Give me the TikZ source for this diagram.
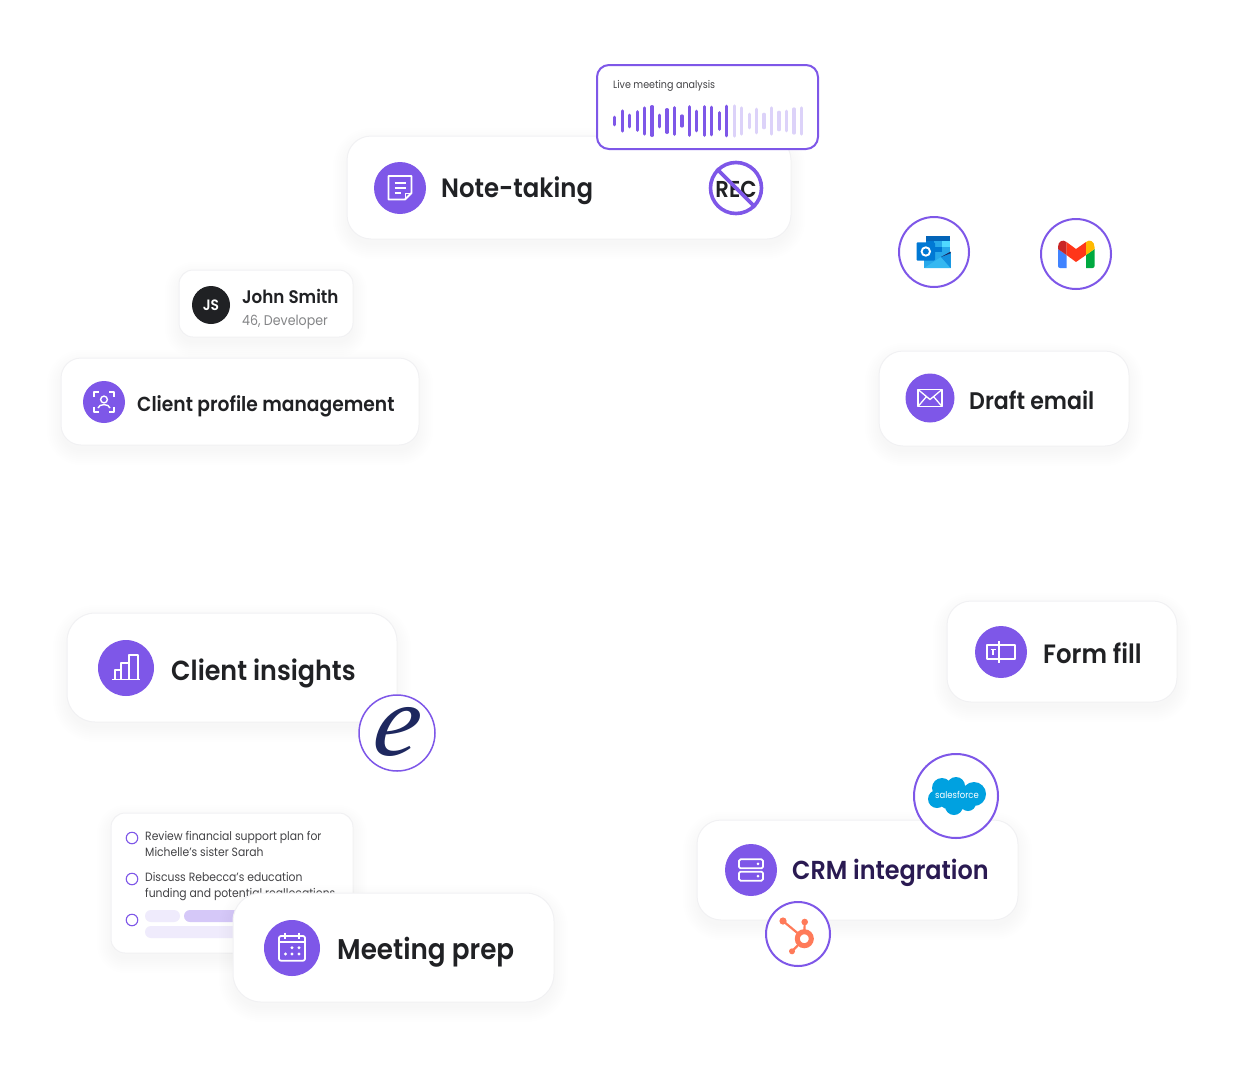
\documentclass[tikz,border=0pt]{standalone}
\usepackage{fontspec}
\setmainfont{Poppins}
\newfontfamily\medfont{Poppins}[UprightFont=* SemiBold, FakeStretch=.92]
\newfontfamily\regfont{Poppins}[FakeStretch=.9]
\newfontfamily\efont{Liberation Serif}
\definecolor{violet}{HTML}{7E57E8}
\definecolor{ink}{HTML}{202124}
\definecolor{edge}{HTML}{F1F1F3}
\definecolor{palebar}{HTML}{DCD2F9}
\definecolor{palepill}{HTML}{EFEBFC}
\definecolor{midpill}{HTML}{D5C8F8}
\definecolor{navy}{HTML}{1E285F}
\definecolor{crmink}{HTML}{2A1A52}
\definecolor{hubspot}{HTML}{FF7A59}
\definecolor{cloud}{HTML}{00A1E0}
\definecolor{ol1}{HTML}{0364B8}
\definecolor{ol2}{HTML}{0078D4}
\definecolor{ol3}{HTML}{28A8EA}
\definecolor{ol4}{HTML}{50D9FF}
\definecolor{ol5}{HTML}{1490DF}
\definecolor{ol6}{HTML}{35B8F1}
\tikzset{
  card/.style={draw=edge, line width=1pt, fill=white, anchor=north west, inner sep=0pt, outer sep=0pt},
  badge/.style={shape=circle, fill=violet, inner sep=0pt},
  logo/.style={shape=circle, draw=violet, fill=white, line width=2pt, inner sep=0pt},
  title/.style={anchor=base west, text=ink, inner sep=0pt, font=\medfont},
  small/.style={anchor=base west, text=ink!85, inner sep=0pt, font=\regfont\fontsize{12}{14}\selectfont},
  glyph/.style={draw=white, line width=1.8pt, line join=round},
  tick/.style={shape=circle, draw=violet, line width=1.1pt, minimum size=11.5pt, inner sep=0pt},
}
\newcommand{\cardshade}[5]{\foreach \k in {0,2,...,14}{
    \pgfmathsetmacro{\rr}{#5+\k}
    \fill[black, opacity=.004, rounded corners=\rr pt] ({#1-\k},{#2+6-\k}) rectangle ({#1+#3+\k},{#2+#4+6+\k});}}
\begin{document}
\begin{tikzpicture}[x=1pt,y=-1pt]
  \useasboundingbox (0,0) rectangle (1236,1076);

  \cardshade{347}{136}{444}{103}{24}
  \node[card, rounded corners=24pt, minimum width=444pt, minimum height=103pt] (note) at (347,136){};
  \node[badge, minimum size=52pt] (noteicon) at (400,188){};
  \node[title, font=\medfont\fontsize{26.5}{30}\selectfont] (notetext) at (441,197){Note-taking};
  \begin{scope}[shift={(400,188)}]
    \draw[glyph] (5,11.5) -- (-11.5,11.5) -- (-11.5,-12) -- (11.5,-12) -- (11.5,5) -- cycle;
    \draw[glyph, line width=1pt] (5,11.5) -- (5,5) -- (11.5,5);
    \draw[glyph] (-5.5,-5) -- (5.5,-5) (-5.5,0) -- (5.5,0) (-5.5,5) -- (1,5);
  \end{scope}
  \node[text=ink, font=\medfont\fontsize{23}{24}\selectfont, inner sep=0pt] (rectext) at (736,189){REC};
  \node[shape=circle, draw=violet, line width=3.6pt, minimum size=51pt, inner sep=0pt] (recring) at (736,188){};
  \draw[violet, line width=3.6pt] (recring.135) -- (recring.-45);

  \node[card, draw=violet, line width=2pt, rounded corners=12pt, minimum width=221pt, minimum height=84pt] (live) at (597,65){};
  \node[small, font=\regfont\fontsize{10.6}{12}\selectfont] (livetext) at (613,88){Live meeting analysis};
  \foreach \h [count=\i] in {32,70,45,65,88,96,45,78,90,40,95,68,96,92,60,98}
    \draw[violet, line width=3.2pt, line cap=round] ({614.7+7.47*(\i-1)},{122.6-\h/6}) -- ({614.7+7.47*(\i-1)},{119.4+\h/6});
  \foreach \h [count=\i] in {100,88,50,80,50,88,62,68,82,88}
    \draw[palebar, line width=3.2pt, line cap=round] ({734.2+7.47*(\i-1)},{122.6-\h/6}) -- ({734.2+7.47*(\i-1)},{119.4+\h/6});

  \cardshade{179}{270}{174}{67}{14}
  \node[card, rounded corners=14pt, minimum width=174pt, minimum height=67pt] (john) at (179,270){};
  \node[shape=circle, fill=ink, minimum size=38pt, inner sep=0pt, text=white, font=\medfont\fontsize{15}{18}\selectfont] (js) at (211,305){JS};
  \node[title, font=\medfont\fontsize{18.2}{22}\selectfont] (johnname) at (242,303){John Smith};
  \node[small, text=ink!55, font=\regfont\fontsize{14}{16}\selectfont] (johnrole) at (242,325){46, Developer};

  \cardshade{61}{358}{358}{87}{20}
  \node[card, rounded corners=20pt, minimum width=358pt, minimum height=87pt] (profile) at (61,358){};
  \node[badge, minimum size=42pt] (profileicon) at (104,402){};
  \node[title, font=\medfont\fontsize{20.3}{24}\selectfont] (profiletext) at (137,411){Client profile management};
  \begin{scope}[shift={(104,402)}]
    \draw[glyph, line width=1.4pt] (-10,-5) -- (-10,-10) -- (-5,-10) (5,-10) -- (10,-10) -- (10,-5)
      (10,5) -- (10,10) -- (5,10) (-5,10) -- (-10,10) -- (-10,5);
    \draw[glyph, line width=1.4pt] (0,-2.5) circle (3.4pt);
    \draw[glyph, line width=1.4pt] (-6,6) .. controls (-5,1.5) and (5,1.5) .. (6,6);
  \end{scope}

  \node[logo, minimum size=70pt] (outlook) at (934,252){};
  \begin{scope}[shift={(934,252)}]
    \fill[ol1] (-8,-16) rectangle (16,-11);
    \fill[ol2] (-8,-11) rectangle (0,-5);
    \fill[ol3] (0,-11) rectangle (8,-5);
    \fill[ol4] (8,-11) rectangle (16,-5);
    \fill[ol1] (-8,-5) rectangle (0,0);
    \fill[ol2] (0,-5) rectangle (8,0);
    \fill[ol3] (8,-5) rectangle (16,0);
    \fill[ol3] (-9.7,0) rectangle (16.7,16);
    \fill[ol6] (-9.7,16) -- (7,5) -- (16.7,16) -- cycle;
    \fill[ol5] (7,5) -- (16.7,0) -- (16.7,16) -- cycle;
    \fill[navy] (7,5) -- (16.7,-0.5) -- (16.7,1.2) -- cycle;
    \fill[rounded corners=1pt, ol2] (-17.5,-9.7) rectangle (1,8.7);
    \draw[white, line width=1.9pt] (-8.2,-0.5) circle (4.2pt);
  \end{scope}

  \node[logo, minimum size=70pt] (gmail) at (1076,254){};
  \begin{scope}[shift={(1076,254)}]
    \fill[fill=blue!65!cyan!75!white] (-18,-5) -- (-9.5,1) -- (-9.5,14) -- (-16,14) .. controls (-17.5,14) and (-18,13) .. (-18,12) -- cycle;
    \fill[fill=green!55!black!75!cyan] (18.5,-5) -- (10,1) -- (10,14) -- (16.5,14) .. controls (18,14) and (18.5,13) .. (18.5,12) -- cycle;
    \fill[fill=red!75!black!85!white] (-18,-7) .. controls (-18,-13) and (-13,-15) .. (-9.5,-12) -- (-9.5,1) -- (-18,-5) -- cycle;
    \fill[fill=red!75!orange!90!white] (-9.5,-12) -- (0,-5) -- (10,-12) -- (10,1) -- (0,8) -- (-9.5,1) -- cycle;
    \fill[fill=orange!55!yellow] (18.5,-7) .. controls (18.5,-13) and (13.5,-15) .. (10,-12) -- (10,1) -- (18.5,-5) -- cycle;
  \end{scope}

  \cardshade{879}{351}{250}{95}{24}
  \node[card, rounded corners=24pt, minimum width=250pt, minimum height=95pt] (email) at (879,351){};
  \node[badge, minimum size=49pt] (emailicon) at (930,398){};
  \node[title, font=\medfont\fontsize{24}{28}\selectfont] (emailtext) at (969,409){Draft email};
  \begin{scope}[shift={(930,398)}]
    \draw[glyph] (-12,-8.5) rectangle (12,8.5);
    \draw[glyph, line width=1.3pt] (-12,-8.5) -- (0,1.5) -- (12,-8.5) (-12,8.5) -- (-3.5,-1.5) (12,8.5) -- (3.5,-1.5);
  \end{scope}

  \cardshade{67}{613}{330}{109}{28}
  \node[card, rounded corners=28pt, minimum width=330pt, minimum height=109pt] (insights) at (67,613){};
  \node[badge, minimum size=56pt] (insightsicon) at (126,668){};
  \node[title, font=\medfont\fontsize{27.6}{32}\selectfont] (insightstext) at (171,680){Client insights};
  \begin{scope}[shift={(126,668)}]
    \draw[glyph] (-14,11.5) -- (14,11.5);
    \draw[glyph] (-11,11.5) -- (-11,2.3) -- (-5.3,2.3) -- (-5.3,11.5);
    \draw[glyph] (-5.3,2.3) -- (-5.3,-5.3) -- (3,-5.3) -- (3,11.5);
    \draw[glyph] (3,-5.3) -- (3,-12.7) -- (11.7,-12.7) -- (11.7,11.5);
  \end{scope}
  \node[logo, line width=1.5pt, minimum size=76pt] (ering) at (397,733){};
  \begin{scope}[shift={(397,732)}]
    \node[text=navy, inner sep=0pt, xslant=.18, transform shape, font=\efont\itshape\fontsize{102}{102}\selectfont] (elogo) at (0,0){e};
  \end{scope}

  \cardshade{111}{813}{242}{140}{14}
  \node[card, rounded corners=14pt, minimum width=242pt, minimum height=140pt] (agenda) at (111,813){};
  \node[tick] (tick1) at (132,838){};
  \node[tick] (tick2) at (132,879){};
  \node[tick] (tick3) at (132,920){};
  \node[small] (line1) at (145,840){Review financial support plan for};
  \node[small] (line2) at (145,856){Michelle’s sister Sarah};
  \node[small] (line3) at (145,881){Discuss Rebecca’s education};
  \node[small] (line4) at (145,897){funding and potential reallocations};
  \fill[palepill, rounded corners=6pt] (145,910) rectangle (180,922);
  \fill[midpill, rounded corners=6pt] (184,910) rectangle (260,922);
  \fill[palepill, rounded corners=6pt] (145,926) rectangle (260,938);

  \cardshade{233}{893}{321}{109}{28}
  \node[card, rounded corners=28pt, minimum width=321pt, minimum height=109pt] (prep) at (233,893){};
  \node[badge, minimum size=56pt] (prepicon) at (292,948){};
  \node[title, font=\medfont\fontsize{28.5}{32}\selectfont] (preptext) at (337,959){Meeting prep};
  \begin{scope}[shift={(292,948)}]
    \draw[glyph, rounded corners=2pt] (-13,-12) rectangle (13,12.7);
    \draw[glyph] (-13,-5.7) -- (13,-5.7) (-7,-15.5) -- (-7,-9.5) (7,-15.5) -- (7,-9.5);
    \foreach \p in {(0,-0.3),(7,-0.3),(-6.5,6),(0,6),(7,6)}
      \fill[white] \p circle (1.7pt);
  \end{scope}

  \cardshade{697}{820}{321}{100}{24}
  \node[card, rounded corners=24pt, minimum width=321pt, minimum height=100pt] (crm) at (697,820){};
  \node[badge, minimum size=52pt] (crmicon) at (751,870){};
  \node[title, text=crmink, font=\medfont\fontsize{26}{30}\selectfont] (crmtext) at (792,879){CRM integration};
  \begin{scope}[shift={(751,870)}]
    \draw[glyph, rounded corners=1.5pt] (-12,-10.7) rectangle (12,-1.7);
    \draw[glyph, rounded corners=1.5pt] (-12,1.7) rectangle (12,10.7);
    \fill[white] (7,-6.2) circle (1.5pt) (7,6.2) circle (1.5pt);
  \end{scope}

  \node[logo, minimum size=84pt] (sales) at (956,796){};
  \begin{scope}[shift={(956,796)}]
    \fill[cloud] (-14,-8) circle (10pt) (0,-10) circle (9pt) (18,-2) circle (12pt) (-19,3) circle (9pt)
      (-2,10) circle (9pt) (12,7) circle (8pt) (0,0) circle (12pt) (-8,4) circle (9pt);
    \node[text=white, inner sep=0pt, font=\regfont\fontsize{9.4}{11}\selectfont] (salestext) at (1,-1.5){salesforce};
  \end{scope}

  \node[logo, minimum size=64pt] (hub) at (798,934){};
  \begin{scope}[shift={(798,934)}]
    \draw[hubspot, line width=2.2pt] (-15,-13) -- (6.3,4.7) (6.7,-12) -- (6.3,4.7) (-6,17.3) -- (6.3,4.7);
    \fill[hubspot] (-15,-13) circle (3.6pt) (6.7,-12) circle (3.3pt) (-6,17.3) circle (3pt);
    \draw[hubspot, fill=white, line width=5pt] (6.3,4.7) circle (7pt);
  \end{scope}

  \cardshade{947}{601}{230}{101}{24}
  \node[card, rounded corners=24pt, minimum width=230pt, minimum height=101pt] (form) at (947,601){};
  \node[badge, minimum size=52pt] (formicon) at (1001,652){};
  \node[title, font=\medfont\fontsize{26.5}{30}\selectfont] (formtext) at (1043,663){Form fill};
  \begin{scope}[shift={(1001,652)}]
    \draw[glyph] (-2.3,-6.7) -- (-13.7,-6.7) -- (-13.7,6.7) -- (-2.3,6.7);
    \draw[glyph] (-2.3,-6.7) -- (13.7,-6.7) -- (13.7,6.7) -- (-2.3,6.7);
    \draw[glyph] (-2.3,-11) -- (-2.3,11);
    \draw[glyph, line width=1.2pt] (-10.5,-2.5) -- (-5.5,-2.5) (-8,-2.5) -- (-8,3);
  \end{scope}
\end{tikzpicture}
\end{document}
